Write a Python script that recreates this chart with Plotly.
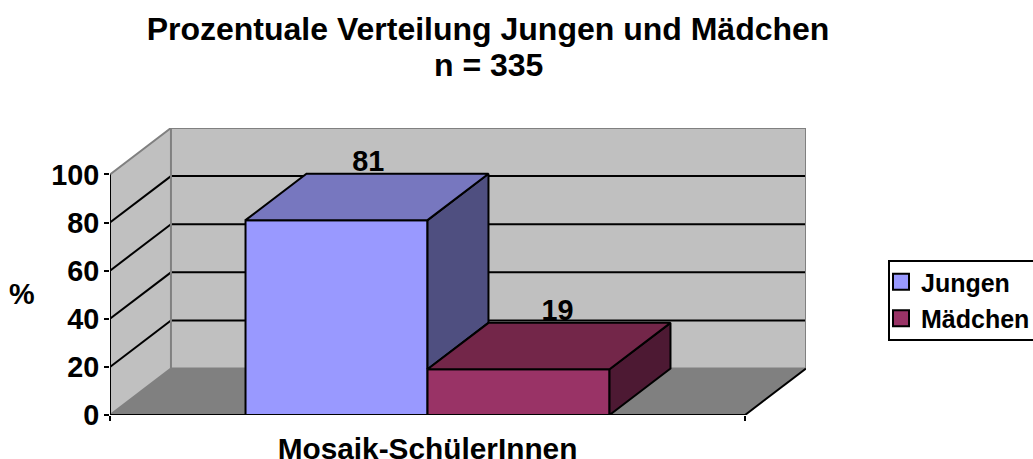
import plotly.graph_objects as go

# Data
title_main = "Prozentuale Verteilung Jungen und Mädchen"
title_sub = "n = 335"
category = "Mosaik-SchülerInnen"
series_names = ["Jungen", "Mädchen"]
series_values = [81, 19]
y_ticks = [0, 20, 40, 60, 80, 100]
grid_values = [20, 40, 60, 80]

# Oblique 3D projection, in axis units
Y_MAX = 100
DEPTH_X = 0.096
DEPTH_Y = 19.3
BAR_W = 0.2866
BAR_START = 0.2134
LABEL_SHIFT = [0.05, 0.0615]
LABEL_DROP = 1.7
FRONT = ["#9999FF", "#993366"]
TOP = ["#7777BF", "#732649"]
SIDE = ["#4F4F80", "#4D1933"]
WALL = "#C0C0C0"
FLOOR = "#808080"
EDGE = "#808080"
FF = "Liberation Sans"
L, R, T, B = 110, 227, 128, 44
PW, PH = 1033 - L - R, 459 - T - B

fig = go.Figure()


def px(v):
    return (v - L) / PW


def py(v):
    return (459 - B - v) / PH


def poly(xs, ys, fill=None, color="black", width=2):
    fig.add_trace(go.Scatter(
        x=xs, y=ys, mode="lines", fill="toself" if fill else None,
        fillcolor=fill, line=dict(color=color, width=width),
        showlegend=False, hoverinfo="skip", cliponaxis=False))


def path(xs, ys):
    return "M " + " L ".join(f"{a},{b}" for a, b in zip(xs, ys)) + " Z"


shapes = []
# walls and floor
shapes.append(dict(type="path", layer="below", line=dict(width=0), fillcolor=WALL,
                   path=path([0, DEPTH_X, DEPTH_X, 0], [0, DEPTH_Y, Y_MAX + DEPTH_Y, Y_MAX])))
shapes.append(dict(type="path", layer="below", line=dict(width=0), fillcolor=WALL,
                   path=path([DEPTH_X, 1 + DEPTH_X, 1 + DEPTH_X, DEPTH_X],
                             [DEPTH_Y, DEPTH_Y, Y_MAX + DEPTH_Y, Y_MAX + DEPTH_Y])))
shapes.append(dict(type="path", layer="below", line=dict(width=0), fillcolor=FLOOR,
                   path=path([0, 1, 1 + DEPTH_X, DEPTH_X], [0, 0, DEPTH_Y, DEPTH_Y])))
# gridlines
for g in grid_values:
    shapes.append(dict(type="line", layer="below", line=dict(color="black", width=2),
                       x0=0, y0=g, x1=DEPTH_X, y1=g + DEPTH_Y))
    shapes.append(dict(type="line", layer="below", line=dict(color="black", width=2),
                       x0=DEPTH_X, y0=g + DEPTH_Y, x1=1 + DEPTH_X, y1=g + DEPTH_Y))
shapes.append(dict(type="line", layer="below", line=dict(color=EDGE, width=2),
                   x0=DEPTH_X, y0=DEPTH_Y, x1=1 + DEPTH_X, y1=DEPTH_Y))
# legend box
shapes.append(dict(type="path", xref="paper", yref="paper", line=dict(color="black", width=2),
                   fillcolor="white", layer="below",
                   path=path([px(889), px(1045), px(1045), px(889)], [py(261), py(261), py(340), py(340)])))

# front faces
centers = [BAR_START + BAR_W * (i + 0.5) for i in range(len(series_values))]
for i, (name, v) in enumerate(zip(series_names, series_values)):
    fig.add_trace(go.Bar(x=[centers[i]], y=[v], width=BAR_W, name=name, showlegend=False,
                         marker=dict(color=FRONT[i], line=dict(color="black", width=2)),
                         hoverinfo="skip"))

# wall edges
poly([0, DEPTH_X, DEPTH_X], [Y_MAX, Y_MAX + DEPTH_Y, DEPTH_Y], color=EDGE)
poly([DEPTH_X, 1 + DEPTH_X, 1 + DEPTH_X], [Y_MAX + DEPTH_Y, Y_MAX + DEPTH_Y, DEPTH_Y], color=EDGE)
poly([0, DEPTH_X], [0, DEPTH_Y], color=EDGE)
poly([1, 1 + DEPTH_X], [0, DEPTH_Y], color="black")
poly([0, 0], [0, Y_MAX])
poly([0, 1], [0, 0])

# bar top and side faces; a side stops where the next bar begins
for i, v in enumerate(series_values):
    l = BAR_START + BAR_W * i
    r = l + BAR_W
    base = series_values[i + 1] if i + 1 < len(series_values) else 0
    poly([r, r + DEPTH_X, r + DEPTH_X, r, r],
         [base, base + DEPTH_Y, v + DEPTH_Y, v, base], fill=SIDE[i])
    poly([l, r, r + DEPTH_X, l + DEPTH_X, l], [v, v, v + DEPTH_Y, v + DEPTH_Y, v], fill=TOP[i])
    fig.add_trace(go.Scatter(
        x=[centers[i] + LABEL_SHIFT[i]], y=[v + DEPTH_Y - LABEL_DROP], mode="text", text=[str(v)],
        textposition="top center", textfont=dict(family=FF, size=28.8, color="black"),
        texttemplate="<b>%{text}</b>", showlegend=False, hoverinfo="skip", cliponaxis=False))

# legend entries
for i, name in enumerate(series_names):
    fig.add_trace(go.Scatter(
        x=[None], y=[None], mode="markers", name=f"<b>{name}</b>", legendgroup=name,
        marker=dict(symbol="square", size=16, color=FRONT[i], line=dict(color="black", width=2))))

fig.update_layout(
    width=1033, height=459,
    barmode="overlay",
    margin=dict(l=L, r=R, t=T, b=B, autoexpand=False),
    paper_bgcolor="white", plot_bgcolor="white",
    font=dict(family=FF, color="black"),
    shapes=shapes,
    title=dict(text=f"<b>{title_main}</b>", x=488 / 1033, xanchor="center",
               y=1 - 29 / 459, yanchor="middle",
               font=dict(family=FF, size=32, color="black")),
    xaxis=dict(range=[0, 1 + DEPTH_X], showgrid=False, zeroline=False, showline=False,
               tickmode="array", tickvals=[0.5], ticktext=[f"<b>{category}</b>"],
               ticks="outside", ticklen=7, tickcolor="rgba(0,0,0,0)",
               tickfont=dict(family=FF, size=29.8, color="black"),
               minor=dict(tickmode="array", tickvals=[0, 1], ticks="outside", ticklen=5,
                          tickwidth=2, tickcolor="black", showgrid=False)),
    yaxis=dict(range=[0, Y_MAX + DEPTH_Y], showgrid=False, zeroline=False, showline=False,
               tickmode="array", tickvals=y_ticks, ticktext=[f"<b>{t}</b>" for t in y_ticks],
               ticks="outside", ticklen=5, tickwidth=2, tickcolor="black", ticklabelstandoff=-1,
               tickfont=dict(family=FF, size=28.8, color="black")),
    legend=dict(x=px(881), y=py(259), xanchor="left", yanchor="top",
                bgcolor="rgba(0,0,0,0)", borderwidth=0,
                font=dict(family=FF, size=25, color="black"),
                traceorder="grouped", itemwidth=30, tracegroupgap=1, itemsizing="trace"),
    annotations=[
        dict(text=f"<b>{title_sub}</b>", xref="paper", yref="paper", x=px(488), y=py(65),
             xanchor="center", yanchor="middle", showarrow=False,
             font=dict(family=FF, size=32, color="black")),
        dict(text="<b>%</b>", xref="paper", yref="paper", x=px(22), y=py(294),
             xanchor="center", yanchor="middle", showarrow=False,
             font=dict(family=FF, size=28.8, color="black")),
    ],
)

fig.write_html("out.html", config={"displayModeBar": False},
               post_script="document.body.style.margin='0';document.body.style.overflow='hidden';")
